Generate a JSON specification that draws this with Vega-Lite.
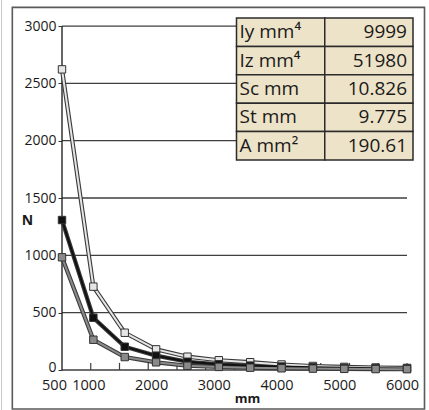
{
  "$schema": "https://vega.github.io/schema/vega-lite/v6.json",
  "autosize": "none",
  "width": 351,
  "height": 352,
  "padding": {"left": 62, "top": 18, "right": 16, "bottom": 40},
  "background": "white",
  "config": {"view": {"stroke": null}, "font": "Open Sans"},
  "datasets": {
    "curves": [
      {"series": "A", "L": 500, "N": 2622}, {"series": "A", "L": 1000, "N": 727}, {"series": "A", "L": 1500, "N": 325},
      {"series": "A", "L": 2000, "N": 180}, {"series": "A", "L": 2500, "N": 116}, {"series": "A", "L": 3000, "N": 85},
      {"series": "A", "L": 3500, "N": 68}, {"series": "A", "L": 4000, "N": 48}, {"series": "A", "L": 4500, "N": 35},
      {"series": "A", "L": 5000, "N": 27}, {"series": "A", "L": 5500, "N": 22}, {"series": "A", "L": 6000, "N": 18},
      {"series": "B", "L": 500, "N": 1308}, {"series": "B", "L": 1000, "N": 456}, {"series": "B", "L": 1500, "N": 203},
      {"series": "B", "L": 2000, "N": 125}, {"series": "B", "L": 2500, "N": 72}, {"series": "B", "L": 3000, "N": 50},
      {"series": "B", "L": 3500, "N": 38}, {"series": "B", "L": 4000, "N": 30}, {"series": "B", "L": 4500, "N": 24},
      {"series": "B", "L": 5000, "N": 19}, {"series": "B", "L": 5500, "N": 16}, {"series": "B", "L": 6000, "N": 13},
      {"series": "C", "L": 500, "N": 983}, {"series": "C", "L": 1000, "N": 264}, {"series": "C", "L": 1500, "N": 113},
      {"series": "C", "L": 2000, "N": 67}, {"series": "C", "L": 2500, "N": 37}, {"series": "C", "L": 3000, "N": 27},
      {"series": "C", "L": 3500, "N": 20}, {"series": "C", "L": 4000, "N": 15}, {"series": "C", "L": 4500, "N": 12},
      {"series": "C", "L": 5000, "N": 10}, {"series": "C", "L": 5500, "N": 8}, {"series": "C", "L": 6000, "N": 7}
    ],
    "grid": [{"v": 0}, {"v": 500}, {"v": 1000}, {"v": 1500}, {"v": 2000}, {"v": 2500}, {"v": 3000}],
    "xticks": [{"t": 958.3}, {"t": 1416.7}, {"t": 1875}, {"t": 2333.3}, {"t": 2791.7}, {"t": 3250}, {"t": 3708.3}, {"t": 4166.7}, {"t": 4625}, {"t": 5083.3}, {"t": 5541.7}, {"t": 6000}],
    "table": [
      {"param": "Iy mm⁴", "value": "9999"},
      {"param": "Iz mm⁴", "value": "51980"},
      {"param": "Sc mm", "value": "10.826"},
      {"param": "St mm", "value": "9.775"},
      {"param": "A mm²", "value": "190.61"}
    ]
  },
  "layer": [
    {
      "layer": [
        {
          "data": {"values": [{}]},
          "mark": {"type": "rule", "stroke": "#c8c8c8", "strokeWidth": 1},
          "encoding": {"x": {"datum": -464}, "y": {"datum": -350}, "y2": {"datum": 3230}}
        },
        {
          "data": {"values": [{}]},
          "mark": {"type": "rect", "fill": null, "stroke": "#5a5a5a", "strokeWidth": 1.6},
          "encoding": {"x": {"datum": -292}, "x2": {"datum": 6279}, "y": {"datum": 3163}, "y2": {"datum": -340}}
        },
        {
          "data": {"name": "grid"},
          "mark": {"type": "rule", "stroke": "#3f3f3f", "strokeWidth": 1.3},
          "encoding": {"x": {"datum": 500}, "x2": {"datum": 6000}, "y": {"field": "v", "type": "quantitative"}}
        },
        {
          "data": {"name": "xticks"},
          "mark": {"type": "rule", "stroke": "#3f3f3f", "strokeWidth": 1.2},
          "encoding": {"x": {"field": "t", "type": "quantitative"}, "y": {"datum": 0}, "y2": {"datum": 62}}
        },
        {
          "data": {"values": [{}]},
          "mark": {"type": "rule", "stroke": "#333333", "strokeWidth": 1.5},
          "encoding": {"x": {"datum": 500}, "y": {"datum": 0}, "y2": {"datum": 3000}}
        },
        {
          "data": {"name": "curves"},
          "encoding": {
            "x": {
              "field": "L", "type": "quantitative",
              "scale": {"domain": [500, 6095.7], "nice": false, "zero": false},
              "axis": {
                "values": [500, 1000, 2000, 3000, 4000, 5000, 6000], "format": "d",
                "domain": false, "ticks": false, "grid": false,
                "labelFontSize": 14.5, "labelColor": "#1a1a1a",
                "labelOffset": {"condition": {"test": "datum.value == 500", "value": -8}, "value": -5},
                "labelPadding": 8,
                "labelOverlap": false, "labelFlush": false,
                "title": "mm", "titleFontWeight": "bold", "titleFontSize": 13, "titleColor": "#1a1a1a",
                "titleX": 185, "titleY": 28, "titleAlign": "center", "titleBaseline": "middle"
              }
            },
            "y": {
              "field": "N", "type": "quantitative",
              "scale": {"domain": [0, 3070], "nice": false, "zero": true},
              "axis": {
                "values": [0, 500, 1000, 1500, 2000, 2500, 3000], "format": "d",
                "domain": false, "grid": false, "ticks": true, "tickSize": 4, "tickColor": "#333333",
                "labelFontSize": 14, "labelColor": "#1a1a1a", "labelPadding": 2,
                "labelOffset": {"condition": {"test": "datum.value == 0", "value": -3}, "value": 0},
                "title": "N", "titleAngle": 0, "titleFontWeight": "bold", "titleFontSize": 14, "titleColor": "#1a1a1a",
                "titleX": -35, "titleY": 202, "titleAlign": "center", "titleBaseline": "middle"
              }
            }
          },
          "layer": [
            {
              "mark": {"type": "line", "stroke": "#3a3a3a", "strokeWidth": 4.2},
              "encoding": {"detail": {"field": "series", "type": "nominal"}}
            },
            {
              "mark": {"type": "line", "strokeWidth": 2},
              "encoding": {
                "color": {"field": "series", "type": "nominal", "scale": {"domain": ["A", "B", "C"], "range": ["#e6e6e6", "#111111", "#8a8a8a"]}, "legend": null}
              }
            },
            {
              "mark": {"type": "point", "shape": "square", "filled": true, "size": 55, "stroke": "#333333", "strokeWidth": 1, "opacity": 1},
              "encoding": {
                "color": {"field": "series", "type": "nominal", "scale": {"domain": ["A", "B", "C"], "range": ["#e6e6e6", "#111111", "#8a8a8a"]}, "legend": null}
              }
            }
          ]
        }
      ]
    },
    {
      "data": {"name": "table"},
      "encoding": {
        "y": {
          "field": "param", "type": "nominal", "sort": null,
          "scale": {"domain": ["Iy mm⁴", "Iz mm⁴", "Sc mm", "St mm", "A mm²", "_6", "_7", "_8", "_9", "_10", "_11", "_12"], "paddingInner": 0, "paddingOuter": 0.197, "align": 0},
          "axis": null
        }
      },
      "layer": [
        {
          "mark": {"type": "rect", "fill": "#ede3c8", "stroke": "#2b2b2b", "strokeWidth": 1.5},
          "encoding": {"x": {"datum": "label", "type": "nominal", "scale": {"domain": ["label", "value"], "paddingInner": 0, "paddingOuter": 0.9887, "align": 1}, "axis": null}}
        },
        {
          "mark": {"type": "rect", "fill": "#ede3c8", "stroke": "#2b2b2b", "strokeWidth": 1.5},
          "encoding": {"x": {"datum": "value", "type": "nominal"}}
        },
        {
          "mark": {"type": "text", "align": "left", "baseline": "middle", "dx": 3, "fontSize": 19, "font": "Open Sans", "fill": "#1a1a1a"},
          "encoding": {"x": {"datum": "label", "type": "nominal", "bandPosition": 0}, "text": {"field": "param"}}
        },
        {
          "mark": {"type": "text", "align": "right", "baseline": "middle", "dx": -6, "fontSize": 19, "font": "Open Sans", "fill": "#1a1a1a"},
          "encoding": {"x": {"datum": "value", "type": "nominal", "bandPosition": 1}, "text": {"field": "value"}}
        }
      ]
    }
  ],
  "resolve": {"scale": {"x": "independent", "y": "independent", "color": "independent"}}
}
